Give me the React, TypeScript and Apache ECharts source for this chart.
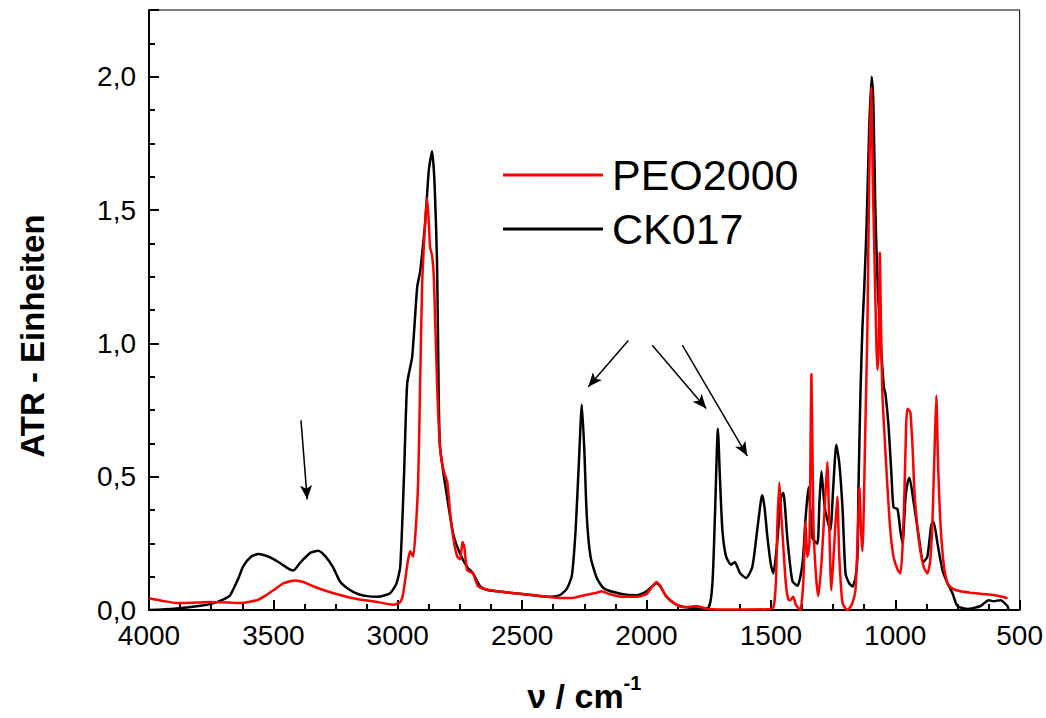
import React, { useEffect, useRef } from "react";
import * as echarts from "echarts";

// Wavenumbers (cm^-1) and ATR units for CK017 (black)
const ckX = [4000, 3900, 3800, 3743, 3700, 3674, 3640, 3622, 3590, 3560, 3520, 3480, 3440, 3420, 3390, 3350, 3320, 3290, 3260, 3232, 3200, 3160, 3123, 3080, 3031, 3005, 2990, 2975, 2962, 2942, 2922, 2910, 2890, 2875, 2862, 2852, 2842, 2836, 2830, 2801, 2777, 2749, 2720, 2697, 2669, 2640, 2600, 2500, 2400, 2350, 2320, 2300, 2285, 2272, 2260, 2250, 2240, 2225, 2200, 2170, 2100, 2040, 2000, 1975, 1960, 1945, 1920, 1880, 1840, 1790, 1750, 1735, 1725, 1713, 1705, 1695, 1680, 1660, 1645, 1625, 1600, 1575, 1555, 1540, 1534, 1525, 1514, 1500, 1490, 1475, 1460, 1450, 1434, 1414, 1393, 1373, 1360, 1349, 1340, 1333, 1313, 1305, 1297, 1290, 1281, 1261, 1250, 1237, 1225, 1212, 1200, 1185, 1172, 1160, 1152, 1148, 1140, 1132, 1125, 1115, 1105, 1095, 1088, 1080, 1070, 1055, 1045, 1040, 1027, 1015, 1007, 991, 980, 971, 959, 950, 943, 927, 907, 887, 871, 855, 846, 830, 810, 790, 770, 750, 710, 657, 625, 605, 577, 549, 545];
const ckY = [0.0, 0.005, 0.015, 0.025, 0.04, 0.055, 0.12, 0.163, 0.2, 0.21, 0.2, 0.18, 0.155, 0.148, 0.18, 0.215, 0.222, 0.2, 0.16, 0.107, 0.08, 0.06, 0.052, 0.05, 0.063, 0.1, 0.163, 0.5, 0.85, 0.95, 1.21, 1.27, 1.45, 1.65, 1.72, 1.6, 1.3, 0.85, 0.61, 0.42, 0.285, 0.21, 0.16, 0.137, 0.089, 0.075, 0.07, 0.06, 0.05, 0.055, 0.08, 0.13, 0.3, 0.55, 0.77, 0.6, 0.35, 0.2, 0.12, 0.08, 0.06, 0.055, 0.07, 0.09, 0.1, 0.09, 0.05, 0.02, 0.01, 0.005, 0.01, 0.1, 0.35, 0.68, 0.5, 0.3, 0.2, 0.17, 0.18, 0.14, 0.12, 0.16, 0.3, 0.41, 0.43, 0.38, 0.274, 0.17, 0.137, 0.25, 0.42, 0.44, 0.27, 0.11, 0.09, 0.174, 0.35, 0.46, 0.36, 0.27, 0.248, 0.4, 0.52, 0.45, 0.37, 0.3, 0.45, 0.62, 0.55, 0.38, 0.137, 0.1, 0.088, 0.12, 0.2, 0.45, 0.81, 1.06, 1.2, 1.45, 1.8, 2.0, 1.9, 1.5, 1.2, 0.95, 0.83, 0.815, 0.69, 0.5, 0.385, 0.378, 0.3, 0.248, 0.42, 0.48, 0.496, 0.41, 0.285, 0.18, 0.2, 0.32, 0.33, 0.248, 0.148, 0.1, 0.063, 0.015, 0.004, 0.015, 0.037, 0.033, 0.037, 0.015, 0.004];

// Wavenumbers (cm^-1) and ATR units for PEO2000 (red)
const peoX = [4000, 3950, 3887, 3800, 3755, 3680, 3634, 3566, 3530, 3500, 3460, 3413, 3380, 3340, 3290, 3232, 3160, 3099, 3018, 2990, 2978, 2960, 2950, 2938, 2928, 2918, 2910, 2902, 2890, 2882, 2875, 2870, 2862, 2855, 2842, 2830, 2815, 2801, 2789, 2775, 2761, 2749, 2740, 2733, 2721, 2697, 2677, 2628, 2550, 2450, 2350, 2300, 2250, 2200, 2180, 2150, 2100, 2040, 2000, 1975, 1960, 1945, 1920, 1880, 1850, 1800, 1760, 1700, 1600, 1510, 1490, 1480, 1474, 1466, 1458, 1454, 1440, 1430, 1422, 1410, 1400, 1382, 1370, 1361, 1353, 1345, 1337, 1329, 1318, 1309, 1295, 1280, 1273, 1265, 1257, 1245, 1233, 1225, 1212, 1192, 1175, 1160, 1150, 1144, 1138, 1132, 1128, 1120, 1112, 1105, 1097, 1090, 1082, 1076, 1072, 1066, 1062, 1058, 1052, 1040, 1032, 1020, 1007, 990, 979, 970, 963, 956, 951, 945, 939, 930, 923, 910, 899, 885, 871, 860, 851, 842, 835, 828, 818, 805, 790, 770, 738, 700, 650, 605, 570, 549];
const peoY = [0.044, 0.035, 0.026, 0.028, 0.03, 0.028, 0.026, 0.037, 0.055, 0.074, 0.1, 0.111, 0.105, 0.089, 0.072, 0.056, 0.04, 0.033, 0.02, 0.03, 0.063, 0.18, 0.22, 0.2, 0.3, 0.48, 0.85, 1.22, 1.45, 1.545, 1.45, 1.36, 1.33, 1.25, 0.85, 0.61, 0.52, 0.48, 0.36, 0.26, 0.2, 0.19, 0.255, 0.24, 0.15, 0.137, 0.089, 0.074, 0.065, 0.055, 0.045, 0.045, 0.055, 0.065, 0.07, 0.06, 0.05, 0.05, 0.06, 0.09, 0.105, 0.09, 0.05, 0.02, 0.01, 0.015, 0.005, 0.002, 0.002, 0.003, 0.01, 0.1, 0.32, 0.478, 0.35, 0.296, 0.1, 0.04, 0.037, 0.05, 0.02, 0.0, 0.1, 0.33, 0.2, 0.25, 0.885, 0.32, 0.12, 0.052, 0.2, 0.45, 0.555, 0.3, 0.074, 0.25, 0.426, 0.2, 0.026, 0.0, 0.02, 0.074, 0.3, 0.46, 0.3, 0.22, 0.32, 0.7, 1.06, 1.6, 1.96, 1.6, 1.25, 1.0, 0.9, 1.0, 1.34, 1.1, 0.815, 0.6, 0.47, 0.3, 0.2, 0.15, 0.137, 0.25, 0.445, 0.7, 0.755, 0.75, 0.74, 0.6, 0.445, 0.3, 0.22, 0.16, 0.137, 0.18, 0.32, 0.6, 0.804, 0.55, 0.32, 0.17, 0.1, 0.08, 0.07, 0.065, 0.06, 0.056, 0.05, 0.044];

const seriesNames = ["PEO2000", "CK017"];
const yTickValues = [0, 0.5, 1.0, 1.5, 2.0];

// Annotation arrows [fromX, fromY, toX, toY] in data units
const arrowFrom = [[2073, 1.011], [1977, 0.993], [1856, 0.993], [3389, 0.711]];
const arrowTo = [[2234, 0.837], [1760, 0.756], [1595, 0.578], [3364, 0.415]];

const FONT = "Arial, 'Liberation Sans', Helvetica, sans-serif";

export default function App() {
  const ref = useRef<HTMLDivElement>(null);
  useEffect(() => {
    if (!ref.current) return;
    const chart = echarts.init(ref.current, null, { renderer: "svg" });
    const ckData = ckX.map((x, i) => [x, ckY[i]]);
    const peoData = peoX.map((x, i) => [x, peoY[i]]);
    const arrows = arrowFrom.map((f, i) => [
      { coord: f },
      { coord: arrowTo[i] },
    ]);
    chart.setOption({
      animation: false,
      backgroundColor: "#fff",
      textStyle: { fontFamily: FONT },
      grid: {
        left: 149,
        right: 26,
        top: 10,
        bottom: 101,
        show: true,
        borderColor: "#000",
        borderWidth: 1,
        backgroundColor: "transparent",
      },
      legend: {
        orient: "vertical",
        left: 498,
        top: 143,
        data: seriesNames,
        icon: "rect",
        itemWidth: 100,
        itemHeight: 3,
        itemGap: 0,
        itemStyle: { borderWidth: 0 },
        textStyle: { fontSize: 43, color: "#000", fontFamily: FONT, lineHeight: 54, padding: [0, 0, 0, 4] },
        selectedMode: false,
      },
      xAxis: {
        type: "value",
        min: 500,
        max: 4000,
        interval: 500,
        inverse: true,
        name: "{a|ν / cm}{b|-1}",
        nameLocation: "middle",
        nameGap: 63,
        nameTextStyle: {
          rich: {
            a: { fontSize: 34, fontWeight: "bold", color: "#000", fontFamily: FONT, lineHeight: 40, verticalAlign: "bottom" },
            b: { fontSize: 20, fontWeight: "bold", color: "#000", fontFamily: FONT, lineHeight: 20, verticalAlign: "top" },
          },
        },
        axisLine: { show: true, onZero: false, lineStyle: { color: "#000", width: 2 } },
        axisTick: { show: true, inside: true, length: 10, lineStyle: { color: "#000", width: 2 } },
        minorTick: { show: true, splitNumber: 4, length: 6, lineStyle: { color: "#000", width: 2 } },
        splitLine: { show: false },
        axisLabel: {
          fontSize: 28,
          color: "#000",
          fontFamily: FONT,
          margin: 11,
          formatter: (v: number) => String(Math.round(v)),
        },
      },
      yAxis: {
        type: "value",
        min: 0,
        max: 2.25,
        interval: 0.5,
        axisLine: { show: true, onZero: false, lineStyle: { color: "#000", width: 2 } },
        axisTick: { show: true, inside: true, length: 10, lineStyle: { color: "#000", width: 2 } },
        minorTick: { show: true, splitNumber: 4, length: 6, lineStyle: { color: "#000", width: 2 } },
        splitLine: { show: false },
        axisLabel: {
          fontSize: 28,
          color: "#000",
          fontFamily: FONT,
          margin: 13,
          formatter: (v: number) =>
            yTickValues.some((t) => Math.abs(t - v) < 1e-6) ? v.toFixed(1).replace(".", ",") : "",
        },
      },
      graphic: [
        {
          type: "text",
          x: 32,
          y: 336,
          rotation: Math.PI / 2,
          style: {
            text: "ATR - Einheiten",
            fontSize: 33,
            fontWeight: "bold",
            fontFamily: FONT,
            fill: "#000",
            align: "center",
            verticalAlign: "middle",
          },
        },
      ],
      series: [
        {
          name: "CK017",
          type: "line",
          data: ckData,
          showSymbol: false,
          smooth: 0.2,
          lineStyle: { color: "#000", width: 2.5 },
          itemStyle: { color: "#000" },
          z: 2,
          markLine: {
            silent: true,
            symbol: ["none", "arrow"],
            symbolSize: [9, 14],
            label: { show: false },
            lineStyle: { color: "#000", width: 1.5, type: "solid" },
            data: arrows,
          },
        },
        {
          name: "PEO2000",
          type: "line",
          data: peoData,
          showSymbol: false,
          smooth: 0.2,
          lineStyle: { color: "#ff0000", width: 2.5 },
          itemStyle: { color: "#ff0000" },
          z: 3,
        },
      ],
    });
    return () => chart.dispose();
  }, []);
  return (
    <div
      ref={ref}
      style={{ position: "fixed", left: 0, top: 0, width: 1046, height: 718, background: "#fff" }}
    />
  );
}
